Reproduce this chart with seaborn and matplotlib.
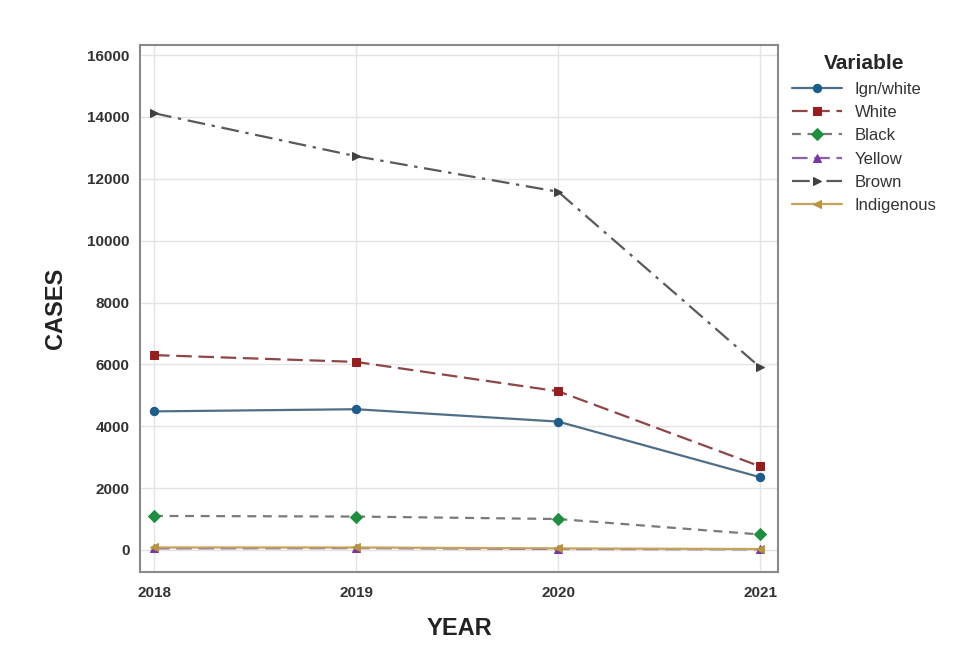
import pandas as pd
import numpy as np
import seaborn as sns
import matplotlib.pyplot as plt

years = [2018, 2019, 2020, 2021]
variables = ['Ign/white', 'White', 'Black', 'Yellow', 'Brown', 'Indigenous']
ign_white = [4480, 4550, 4150, 2350]
white = [6300, 6080, 5130, 2700]
black = [1100, 1080, 1000, 500]
yellow = [50, 60, 30, 20]
brown = [14120, 12730, 11580, 5900]
indigenous = [80, 80, 50, 30]

df = pd.DataFrame({'YEAR': years * 6,
                   'CASES': ign_white + white + black + yellow + brown + indigenous,
                   'Variable': np.repeat(variables, 4)})

line_colors = ['#4f6f88', '#8e4646', '#7a7a7a', '#8a62aa', '#5a5a5a', '#c4a45c']
marker_colors = ['#1d5d8c', '#981d1f', '#1f8f3f', '#7a36a6', '#404040', '#b8943a']
markers = ['o', 's', 'D', '^', '>', '<']
styles = ['-', (0, (7, 3)), (0, (4, 3)), (0, (7, 3)), (0, (8, 3, 1.5, 3)), '-']

sns.set_style('whitegrid')
plt.rcParams['font.family'] = ['Liberation Sans', 'DejaVu Sans']
fig, ax = plt.subplots(figsize=(9.78, 6.6), dpi=100)
fig.subplots_adjust(left=0.143, right=0.796, top=0.932, bottom=0.133)

for i, v in enumerate(variables):
    sub = df[df['Variable'] == v]
    sns.lineplot(data=sub, x='YEAR', y='CASES', ax=ax, label=v,
                 color=line_colors[i], linestyle=styles[i], linewidth=1.6,
                 marker=markers[i], markersize=6,
                 markerfacecolor=marker_colors[i], markeredgecolor=marker_colors[i])

ax.set_xlim(2017.93, 2021.09)
ax.set_ylim(-720, 16330)
ax.set_xticks(years)
ax.set_yticks(range(0, 16001, 2000))
ax.tick_params(axis='both', labelsize=11, colors='#333333', length=4, color='#999999')
ax.tick_params(axis='x', pad=6)
for lab in ax.get_xticklabels() + ax.get_yticklabels():
    lab.set_fontweight('bold')
ax.grid(color='#e4e4e4', linewidth=1)
for s in ax.spines.values():
    s.set_color('#8a8a8a')
    s.set_linewidth(1.5)

ax.set_xlabel('YEAR', fontsize=17, fontweight='bold', color='#222222', labelpad=12)
ax.set_ylabel('CASES', fontsize=17, fontweight='bold', color='#222222', labelpad=14)

leg = ax.legend(title='Variable', loc='upper left', bbox_to_anchor=(1.01, 0.995),
                frameon=False, fontsize=12, title_fontproperties={'weight': 'bold', 'size': 15},
                handlelength=3, labelspacing=0.5, borderaxespad=0)
for t in leg.get_texts():
    t.set_color('#333333')

plt.savefig('out.png', dpi=100)
